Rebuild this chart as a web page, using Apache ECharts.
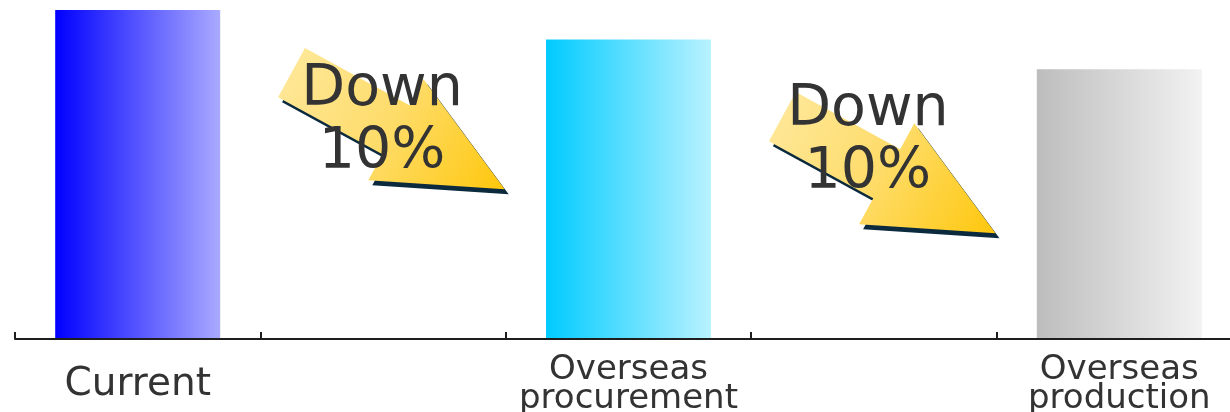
<!DOCTYPE html>
<html>
<head>
<meta charset="utf-8">
<title>Cost scenarios</title>
<script src="https://cdn.jsdelivr.net/npm/echarts@6/dist/echarts.min.js"></script>
<style>
  html, body { margin: 0; padding: 0; background: #ffffff; }
  #chart { width: 1230px; height: 412px; }
</style>
</head>
<body>
<div id="chart"></div>
<script>
// Scenario categories; the empty slots hold the "Down" callouts between bars.
const categories = ['Current', '', 'Overseas\nprocurement', '', 'Overseas\nproduction'];
// Relative cost per scenario (Current = 100); '-' leaves a gap slot empty.
const costValues = [100, '-', 91, '-', 82];
// Callouts sit in the gap slots.
const calloutSlots = [1, 3];
const calloutTexts = ['Down\n10%', 'Down\n10%'];

// Horizontal gradient ends for each bar: [left, right].
const barGradients = [
  ['#0000ff', '#aaaaff'],
  null,
  ['#00cbff', '#b9f2ff'],
  null,
  ['#bdbdbd', '#f2f2f2']
];

// Callout placement, in pixels: offset from the slot centre and height above the axis.
const calloutLayout = [
  { arrowDx: 15, arrowUp: 208, textDx: -1, textUp: 217 },
  { arrowDx: 15, arrowUp: 164, textDx: -6, textUp: 197 }
];

// Block arrow outline pointing along +x, centred on the origin.
const ARROW_SHAPE = [
  [-121.5, -28], [-2.5, -28], [-2.5, -57.5], [121.5, 0],
  [-2.5, 57.5], [-2.5, 28], [-121.5, 28]
];
const ARROW_ANGLE = 28.7 * Math.PI / 180;

function placeArrow(cx, cy, ox, oy) {
  const c = Math.cos(ARROW_ANGLE), s = Math.sin(ARROW_ANGLE);
  return ARROW_SHAPE.map(([x, y]) => [cx + ox + x * c - y * s, cy + oy + x * s + y * c]);
}

const labelFont = 'DejaVu Sans';

const chart = echarts.init(document.getElementById('chart'), null, { renderer: 'canvas' });

chart.setOption({
  backgroundColor: '#ffffff',
  animation: false,
  grid: {
    left: 15, top: 10, width: 1227, height: 329,
    containLabel: false,
    outerBoundsMode: 'none'
  },
  xAxis: {
    type: 'category',
    z: 5,
    boundaryGap: true,
    // Single-line label gets a tall line box so it centres against the two-line ones.
    data: categories.map((c, i) => ({
      value: c,
      textStyle: i === 0
        ? { fontSize: 39, lineHeight: 58 }
        : { fontSize: 34, lineHeight: 29 }
    })),
    axisLine: { show: true, lineStyle: { color: '#1e1e1e', width: 2 } },
    axisTick: {
      show: true,
      inside: true,
      length: 7,
      interval: 0,
      alignWithLabel: false,
      lineStyle: { color: '#1e1e1e', width: 2 }
    },
    axisLabel: {
      interval: 0,
      margin: 17,
      color: '#333333',
      fontFamily: labelFont
    },
    splitLine: { show: false }
  },
  yAxis: {
    type: 'value',
    min: 0,
    max: 100,
    show: false,
    splitLine: { show: false }
  },
  series: [
    {
      type: 'bar',
      barWidth: 165,
      z: 2,
      data: costValues.map((v, i) => ({
        value: v,
        itemStyle: barGradients[i] ? {
          color: new echarts.graphic.LinearGradient(0, 0, 1, 0, [
            { offset: 0, color: barGradients[i][0] },
            { offset: 1, color: barGradients[i][1] }
          ])
        } : undefined
      }))
    },
    {
      type: 'custom',
      z: 4,
      data: calloutSlots.map(slot => [slot]),
      encode: { x: 0 },
      renderItem: function (params, api) {
        const idx = params.dataIndex;
        const lay = calloutLayout[idx];
        const base = api.coord([api.value(0), 0]);
        const cx = base[0] + lay.arrowDx;
        const cy = base[1] - lay.arrowUp;
        const shadow = placeArrow(cx, cy, 4, 5);
        const body = placeArrow(cx, cy, 0, 0);
        return {
          type: 'group',
          children: [
            {
              type: 'polygon',
              shape: { points: shadow },
              style: { fill: '#0b2a3e' }
            },
            {
              type: 'polygon',
              shape: { points: body },
              style: {
                fill: new echarts.graphic.LinearGradient(0, 0, 1, 1, [
                  { offset: 0, color: '#fee99f' },
                  { offset: 0.5, color: '#fedc6a' },
                  { offset: 1, color: '#fec70c' }
                ])
              }
            },
            {
              type: 'text',
              style: {
                x: base[0] + lay.textDx,
                y: base[1] - lay.textUp,
                text: calloutTexts[idx],
                fontFamily: labelFont,
                fontSize: 57,
                lineHeight: 63,
                fill: '#333333',
                align: 'center',
                verticalAlign: 'middle'
              }
            }
          ]
        };
      }
    }
  ]
});
</script>
</body>
</html>
